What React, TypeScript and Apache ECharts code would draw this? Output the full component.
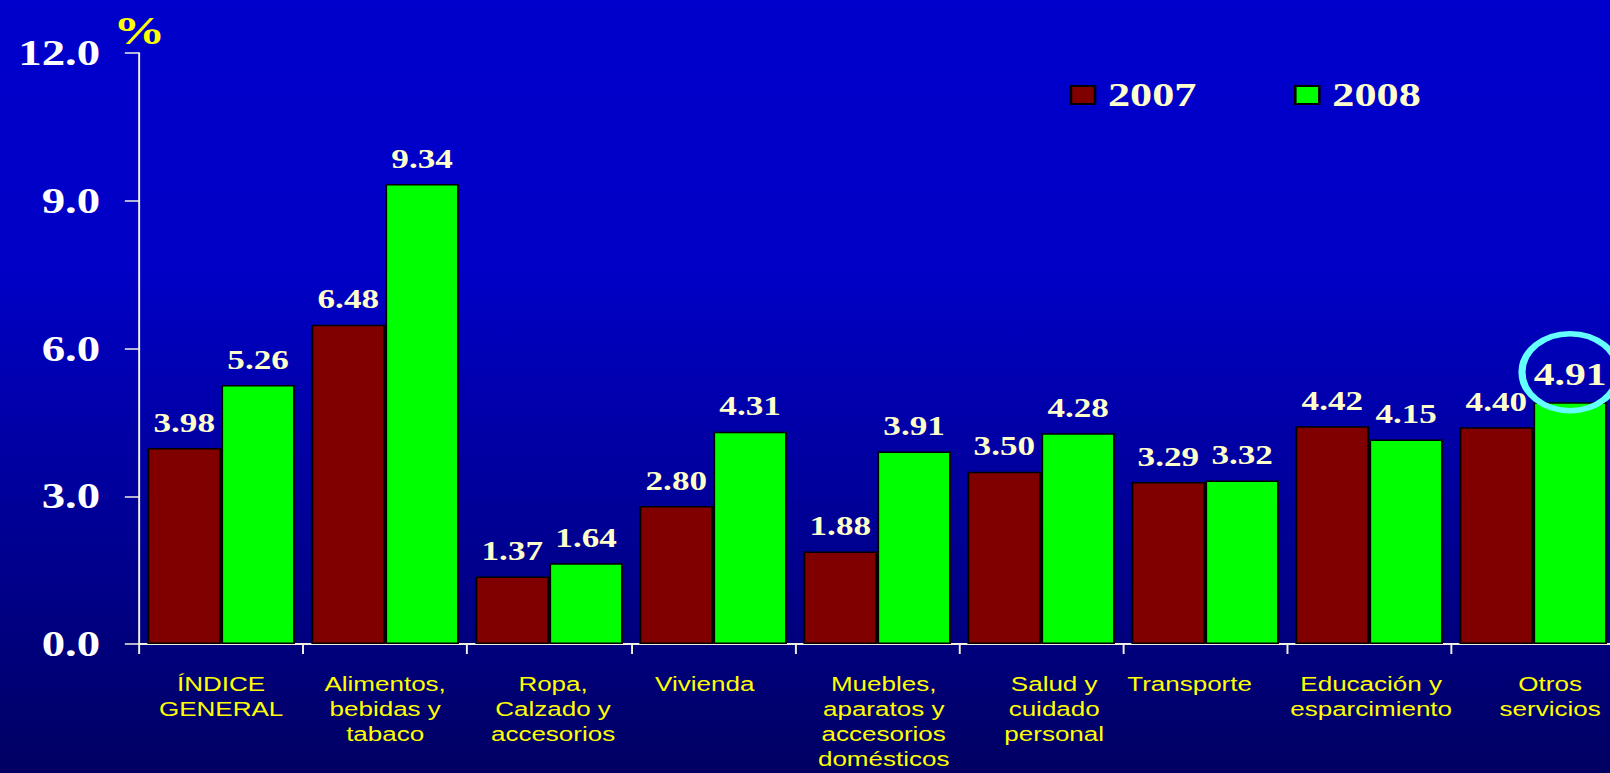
import { useEffect, useRef } from 'react';
import * as echarts from 'echarts';

const categories = [
  'ÍNDICE\nGENERAL',
  'Alimentos,\nbebidas y\ntabaco',
  'Ropa,\nCalzado y\naccesorios',
  'Vivienda',
  'Muebles,\naparatos y\naccesorios\ndomésticos',
  'Salud y\ncuidado\npersonal',
  'Transporte',
  'Educación y\nesparcimiento',
  'Otros\nservicios',
];
const seriesNames = ['2007', '2008'];
const values2007 = [3.98, 6.48, 1.37, 2.8, 1.88, 3.5, 3.29, 4.42, 4.4];
const values2008 = [5.26, 9.34, 1.64, 4.31, 3.91, 4.28, 3.32, 4.15, 4.91];
const yMin = 0;
const yMax = 12;
const yInterval = 3;
const highlightIndex = 8;
const axisUnit = '%';

// horizontal nudges of the category labels (layout only)
const labelShift = [0, 0, 3, -6.5, 5, 10, -12, 1.5, 13];

const PAGE_W = 1610;
const PAGE_H = 773;
const INNER_W = 1238;
const SCALE_X = PAGE_W / INNER_W;

const SERIF = '"Liberation Serif", "Times New Roman", serif';
const SANS = '"Liberation Sans", Arial, sans-serif';

export default function App() {
  const ref = useRef<HTMLDivElement>(null);

  useEffect(() => {
    if (!ref.current) return;
    const chart = echarts.init(ref.current, undefined, { renderer: 'svg' });

    const labelBase = {
      show: true,
      position: 'top' as const,
      distance: 12,
      color: '#FFFFCC',
      fontFamily: SERIF,
      fontWeight: 'bold' as const,
      fontSize: 27,
      formatter: (p: any) => Number(p.value).toFixed(2),
    };

    const data2008 = values2008.map((v, i) =>
      i === highlightIndex ? { value: v, label: { fontSize: 32 } } : v
    );

    const catData = categories.map((c, i) => {
      const s = labelShift[i] || 0;
      return {
        value: c,
        textStyle: {
          padding: [0, s < 0 ? -2 * s : 0, 0, s > 0 ? 2 * s : 0],
        },
      };
    });

    chart.setOption({
      animation: false,
      backgroundColor: {
        type: 'linear',
        x: 0,
        y: 0,
        x2: 0,
        y2: 1,
        colorStops: [
          { offset: 0, color: '#0000CC' },
          { offset: 0.35, color: '#0000C6' },
          { offset: 0.75, color: '#00008A' },
          { offset: 1, color: '#000062' },
        ],
      },
      legend: {
        data: seriesNames,
        icon: 'rect',
        left: 817.5,
        top: 73,
        itemWidth: 18.5,
        itemHeight: 18,
        itemGap: 75,
        textStyle: {
          color: '#FFFFCC',
          fontFamily: SERIF,
          fontWeight: 'bold',
          fontSize: 34,
          lineHeight: 34,
          padding: [0, 0, 0, 5],
        },
      },
      grid: {
        left: 107,
        right: -4,
        top: 53,
        bottom: 129,
        containLabel: false,
        outerBoundsMode: 'none',
      },
      xAxis: {
        type: 'category',
        data: catData,
        axisLine: { show: true, lineStyle: { color: '#F0F0E0', width: 2 } },
        axisTick: { show: true, length: 10, lineStyle: { color: '#F0F0E0', width: 1.5 } },
        axisLabel: {
          interval: 0,
          margin: 28,
          color: '#FFFF00',
          fontFamily: SANS,
          fontSize: 20,
          lineHeight: 25,
          align: 'center',
          verticalAlign: 'top',
        },
      },
      yAxis: {
        type: 'value',
        min: yMin,
        max: yMax,
        interval: yInterval,
        name: axisUnit,
        nameLocation: 'end',
        nameGap: 2,
        nameTextStyle: {
          color: '#FFFF00',
          fontFamily: SERIF,
          fontWeight: 'bold',
          fontSize: 40,
          align: 'center',
          verticalAlign: 'bottom',
        },
        splitLine: { show: false },
        axisLine: { show: true, lineStyle: { color: '#F0F0E0', width: 1.5 } },
        axisTick: { show: true, length: 11, lineStyle: { color: '#F0F0E0', width: 1.5 } },
        axisLabel: {
          margin: 30,
          color: '#FFFFFF',
          fontFamily: SERIF,
          fontWeight: 'bold',
          fontSize: 36,
          formatter: (v: number) => v.toFixed(1),
        },
      },
      series: [
        {
          name: seriesNames[0],
          type: 'bar',
          data: values2007,
          barGap: '0%',
          barCategoryGap: '10%',
          itemStyle: { color: '#800000', borderColor: '#000000', borderWidth: 1.5 },
          label: labelBase,
        },
        {
          name: seriesNames[1],
          type: 'bar',
          data: data2008,
          barGap: '0%',
          barCategoryGap: '10%',
          itemStyle: { color: '#00FF00', borderColor: '#000000', borderWidth: 1.5 },
          label: labelBase,
        },
      ],
    });

    // Highlight ellipse around the 2008 value of the last category
    const p = chart.convertToPixel({ gridIndex: 0 }, [highlightIndex, values2008[highlightIndex]]) as number[];
    const c0 = chart.convertToPixel({ gridIndex: 0 }, [0, 0]) as number[];
    const c1 = chart.convertToPixel({ gridIndex: 0 }, [1, 0]) as number[];
    const band = c1[0] - c0[0];
    const cx = p[0] + band * 0.225;
    const cy = p[1] - 30;
    chart.setOption({
      graphic: [
        {
          type: 'ellipse',
          z: 100,
          shape: { cx, cy, rx: 37, ry: 38.5 },
          style: { fill: 'none', stroke: '#66FFFF', lineWidth: 5.5 },
        },
      ],
    });

    return () => chart.dispose();
  }, []);

  return (
    <div
      style={{
        position: 'absolute',
        left: 0,
        top: 0,
        width: PAGE_W,
        height: PAGE_H,
        overflow: 'hidden',
      }}
    >
      <div
        ref={ref}
        style={{
          width: INNER_W,
          height: PAGE_H,
          transform: `scaleX(${SCALE_X})`,
          transformOrigin: '0 0',
        }}
      />
    </div>
  );
}
